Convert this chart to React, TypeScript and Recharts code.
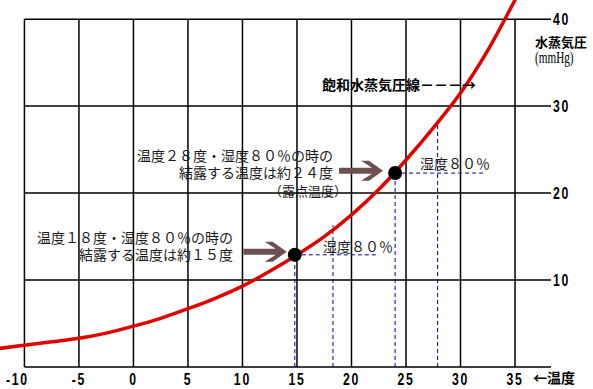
import { ComposedChart, Line, XAxis, YAxis, ReferenceLine, ReferenceDot } from 'recharts'

// saturated vapour pressure curve (°C -> mmHg)
const temps = [-12.5, -10, -7.5, -5, -2.5, 0, 2.5, 5, 7.5, 10, 12.5, 15, 17.5, 20, 22.5, 25, 27.5, 30, 32.5, 35, 36]
const pressures = [2.1, 2.5, 2.9, 3.3, 3.9, 4.7, 5.6, 6.7, 7.9, 9.3, 11.0, 12.9, 15.0, 17.5, 20.4, 23.8, 27.5, 31.5, 36.4, 42.2, 44.6]

const xTicks = [-10, -5, 0, 5, 10, 15, 20, 25, 30, 35]
const yTicks = [10, 20, 30, 40]

// the two worked examples: air at 80% humidity cooled down to its dew point
const airTemps = [18.3, 27.9]
const airSaturation = [16.3, 28.0]
const dewTemps = [14.8, 24.0]
const dewPressures = [12.9, 22.3]
const humidityLineEnds = [22.3, 32.1]

const notes = [
  { lines: ['温度１８度・湿度８０％の時の', '結露する温度は約１５度'], t: 9.13, p: 14.95 },
  { lines: ['温度２８度・湿度８０％の時の', '結露する温度は約２４度'], t: 18.3, p: 24.38 },
]
const arrows = [
  { from: 10.08, to: 14.06, p: 13.26 },
  { from: 18.86, to: 22.89, p: 22.57 },
]
const humidityLabels = [
  { text: '湿度８０％', t: 17.39, p: 13.91 },
  { text: '湿度８０％', t: 26.29, p: 23.46 },
]

const X_DOMAIN = [-12.24, 38.3]
const Y_DOMAIN = [0, 42.2]
const GRID_RIGHT = 38.3

const JP = '"Noto Sans CJK JP", sans-serif'
const DIGITS = '"Liberation Sans", Arial, sans-serif'
const BLUE = '#000099'

const curve = temps.map((t, i) => ({ t, p: pressures[i] }))

// condensed bold digits like the original bitmap font
function XTick({ x, y, payload }: any) {
  const shift = payload.value === -10 ? -7 : 0
  return (
    <text transform={`translate(${x + shift},${y + 12}) scale(0.72,1)`} textAnchor="middle" dominantBaseline="central"
      fontFamily={DIGITS} fontWeight="bold" fontSize={17} letterSpacing={2.5} fill="#000">
      {payload.value}
    </text>
  )
}

function YTick({ x, y, payload }: any) {
  return (
    <text transform={`translate(${x},${y}) scale(0.72,1)`} textAnchor="start" dominantBaseline="central"
      fontFamily={DIGITS} fontWeight="bold" fontSize={17} letterSpacing={2.5} fill="#000">
      {payload.value}
    </text>
  )
}

function Arrow({ x1, y1, x2 }: any) {
  const y = y1
  const d = `M${x1},${y - 3} L${x2 - 11},${y - 3} L${x2 - 22},${y - 10} L${x2 - 14},${y - 10} L${x2},${y} ` +
    `L${x2 - 14},${y + 10} L${x2 - 22},${y + 10} L${x2 - 11},${y + 3} L${x1},${y + 3} Z`
  return <path d={d} fill="#6d5050" />
}

const textAt = (lines: string[], anchor: string, opts: any = {}) => (props: any) => {
  const { x, y } = props.viewBox
  return (
    <text x={x} y={y} textAnchor={anchor} dominantBaseline="central" fontFamily={JP}
      fontSize={14} fill="#1a1a1a" {...opts}>
      {lines.map((l, i) => (
        <tspan key={i} x={x} dy={i === 0 ? 0 : 17.5}>{l}</tspan>
      ))}
    </text>
  )
}

const xUnit = (props: any) => {
  const { x, y, width } = props.viewBox
  return (
    <text x={x + width - 18} y={y + 10} dominantBaseline="central" fontFamily={JP}
      fontWeight="bold" fontSize={14} fill="#000">←温度</text>
  )
}

const yUnit = (props: any) => {
  const { x } = props.viewBox
  return (
    <g>
      <text x={x - 16} y={41} dominantBaseline="central" fontFamily={JP} fontWeight="bold"
        fontSize={13} fill="#000">水蒸気圧</text>
      <text transform={`translate(${x - 16},58) scale(0.7,1)`} dominantBaseline="central"
        fontFamily='"Liberation Serif", serif' fontSize={16} fill="#000">(mmHg)</text>
    </g>
  )
}

export default function App() {
  return (
    <div style={{ position: 'absolute', left: 0, top: 0, width: 593, height: 389, background: '#fff' }}>
      <ComposedChart width={593} height={389} data={curve} margin={{ top: 0, right: 0, bottom: 0, left: 0 }}>
        <XAxis type="number" dataKey="t" domain={X_DOMAIN} allowDataOverflow ticks={xTicks} interval={0}
          axisLine={false} tickLine={false} tickSize={0} tickMargin={0} height={22}
          tick={<XTick />} label={xUnit} />
        <YAxis orientation="right" type="number" domain={Y_DOMAIN} allowDataOverflow ticks={yTicks} interval={0}
          axisLine={false} tickLine={false} tickSize={0} tickMargin={2} width={42}
          tick={<YTick />} label={yUnit} />

        {xTicks.map(t => (
          <ReferenceLine key={'v' + t} segment={[{ x: t, y: 0 }, { x: t, y: 40 }]} stroke="#000" strokeWidth={1.5} />
        ))}
        {[0, ...yTicks].map(p => (
          <ReferenceLine key={'h' + p} segment={[{ x: -10, y: p }, { x: GRID_RIGHT, y: p }]} stroke="#000" strokeWidth={1.5} />
        ))}

        {dewTemps.map((t, i) => (
          <ReferenceLine key={'dv' + i} segment={[{ x: t, y: 0 }, { x: t, y: dewPressures[i] }]}
            stroke={BLUE} strokeWidth={1} strokeDasharray="4 3" />
        ))}
        {dewTemps.map((t, i) => (
          <ReferenceLine key={'dh' + i} segment={[{ x: t, y: dewPressures[i] }, { x: humidityLineEnds[i], y: dewPressures[i] }]}
            stroke={BLUE} strokeWidth={1} strokeDasharray="4 3" />
        ))}
        {airTemps.map((t, i) => (
          <ReferenceLine key={'av' + i} segment={[{ x: t, y: 0 }, { x: t, y: airSaturation[i] }]}
            stroke={BLUE} strokeWidth={1} strokeDasharray="4 3" />
        ))}

        <Line type="monotone" dataKey="p" stroke="#e00000" strokeWidth={3.5} dot={false}
          activeDot={false} isAnimationActive={false} />

        {arrows.map((a, i) => (
          <ReferenceLine key={'ar' + i} segment={[{ x: a.from, y: a.p }, { x: a.to, y: a.p }]}
            shape={(props: any) => <Arrow {...props} />} />
        ))}
        {dewTemps.map((t, i) => (
          <ReferenceDot key={'dot' + i} x={t} y={dewPressures[i]} r={7} fill="#000" stroke="none" />
        ))}

        {notes.map((n, i) => (
          <ReferenceDot key={'n' + i} x={n.t} y={n.p} r={0} fill="none" stroke="none"
            label={textAt(n.lines, 'end')} />
        ))}
        <ReferenceDot x={16.01} y={20.35} r={0} fill="none" stroke="none"
          label={textAt(['（露点温度）'], 'middle', { fontSize: 13 })} />
        {humidityLabels.map((h, i) => (
          <ReferenceDot key={'hl' + i} x={h.t} y={h.p} r={0} fill="none" stroke="none"
            label={textAt([h.text], 'start')} />
        ))}
        <ReferenceDot x={17.3} y={32.54} r={0} fill="none" stroke="none"
          label={textAt(['飽和水蒸気圧線－－－→'], 'start', { fontWeight: 'bold', fill: '#000' })} />
      </ComposedChart>
    </div>
  )
}
